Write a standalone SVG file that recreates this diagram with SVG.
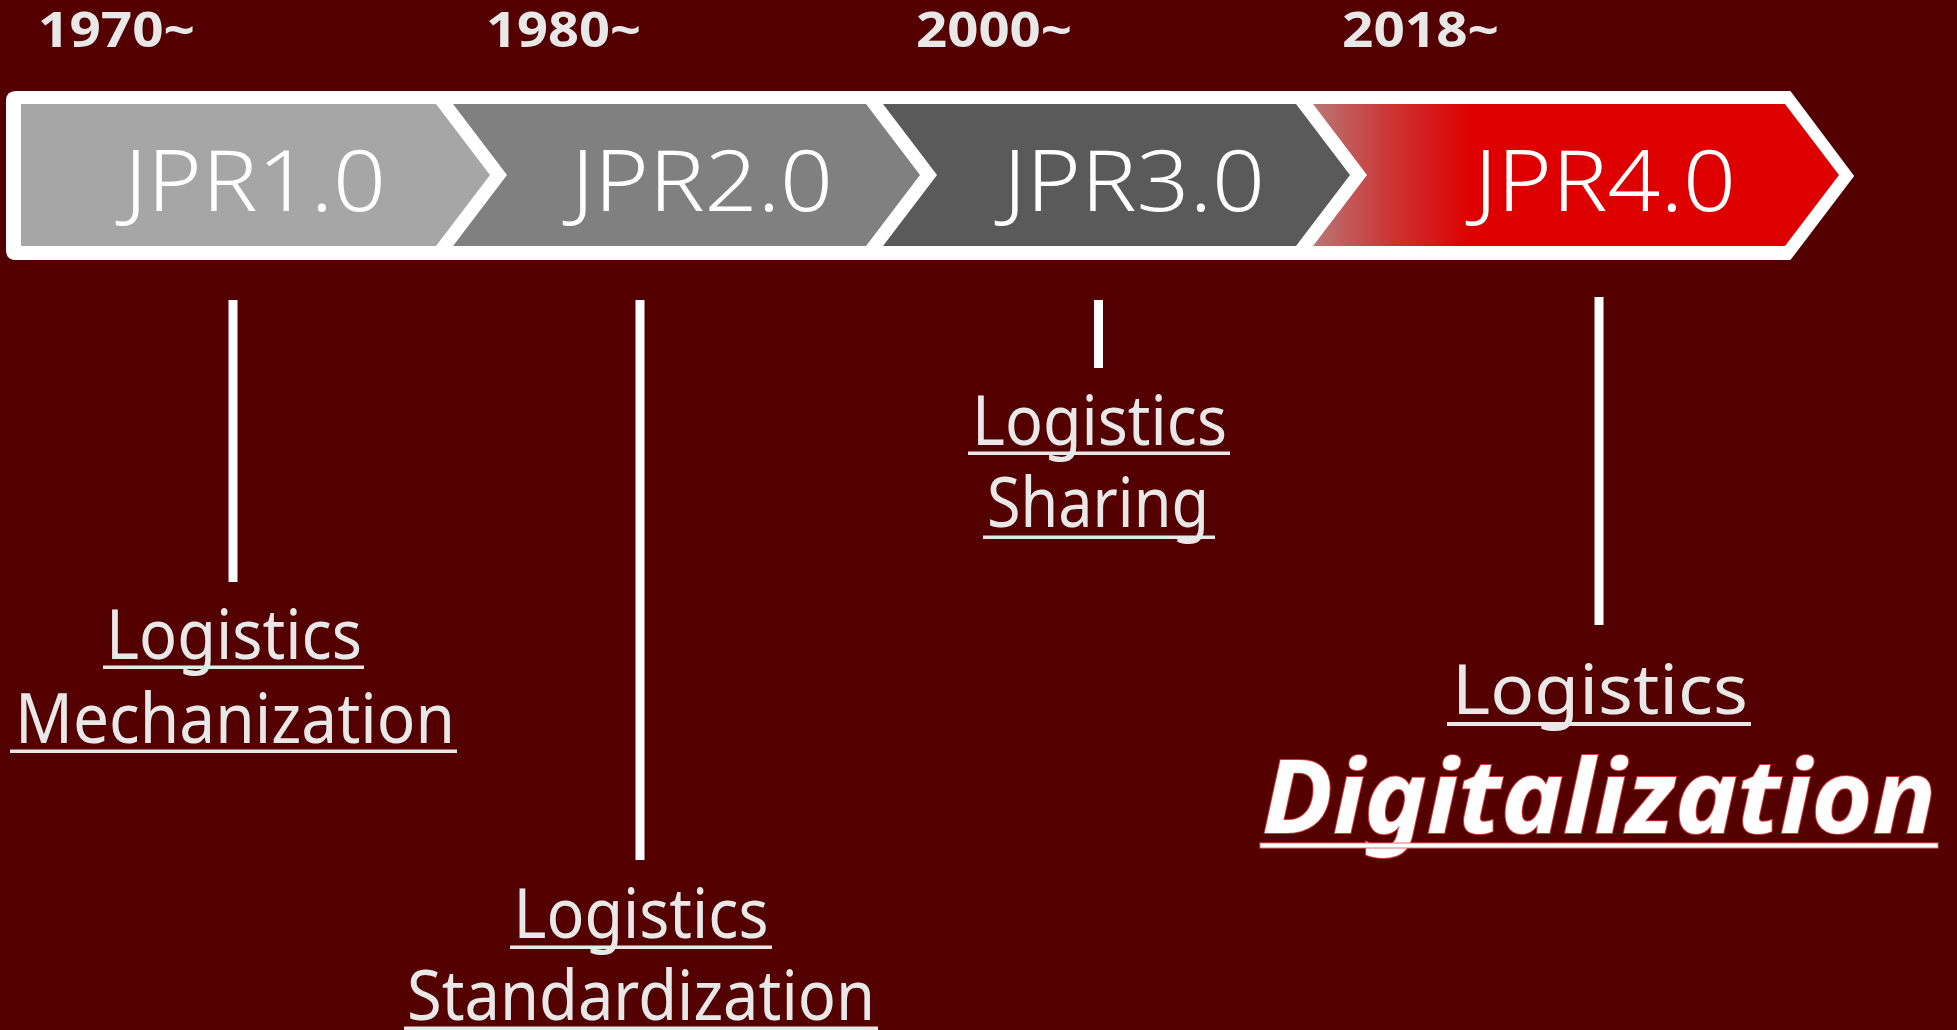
<svg xmlns="http://www.w3.org/2000/svg" width="1957" height="1030" viewBox="0 0 1957 1030">
<style>
.yr{font-family:"Noto Sans","Open Sans","DejaVu Sans",sans-serif;font-weight:700;font-size:49px;fill:#E8E8E8}
.jpr{font-family:"Noto Sans","Open Sans","DejaVu Sans",sans-serif;font-weight:300;font-size:84px;fill:#FFFFFF;text-anchor:middle}
.lbl{font-family:"Noto Sans","Open Sans","DejaVu Sans",sans-serif;font-weight:400;font-size:69px;fill:#E8E8E8;text-anchor:middle}
.ul{fill:#E8E8E8}
.conn{stroke:#FFFFFF;stroke-width:9;fill:none}
</style>
<defs>
<linearGradient id="g4" gradientUnits="userSpaceOnUse" x1="1313" y1="0" x2="1470" y2="0">
<stop offset="0" stop-color="#BA7676"/>
<stop offset="0.5" stop-color="#CC3434"/>
<stop offset="1" stop-color="#DE0000"/>
</linearGradient>
</defs>
<rect width="1957" height="1030" fill="#550000"/>
<g id="band">
<path d="M16,92 H1790 L1853,176 L1790,259 H16 Q7,259 7,250 V101 Q7,92 16,92 Z" fill="#FFFFFF" stroke="#FFFFFF" stroke-width="2" stroke-linejoin="round"/>
</g>
<g id="jpr1">
<path d="M21,104 H436 L490,175 L436,246 H21 Z" fill="#A6A6A6"/>
<text class="jpr" x="255" y="211" textLength="262" lengthAdjust="spacingAndGlyphs">JPR1.0</text>
<text class="yr" x="38" y="47" textLength="157" lengthAdjust="spacingAndGlyphs">1970~</text>
</g>
<g id="jpr2">
<path d="M453,104 H866 L920,175 L866,246 H453 L507,175 Z" fill="#808080"/>
<text class="jpr" x="702" y="211" textLength="262" lengthAdjust="spacingAndGlyphs">JPR2.0</text>
<text class="yr" x="486" y="47" textLength="155" lengthAdjust="spacingAndGlyphs">1980~</text>
</g>
<g id="jpr3">
<path d="M883,104 H1296 L1350,175 L1296,246 H883 L937,175 Z" fill="#5A5A5A"/>
<text class="jpr" x="1134" y="211" textLength="262" lengthAdjust="spacingAndGlyphs">JPR3.0</text>
<text class="yr" x="916" y="47" textLength="156" lengthAdjust="spacingAndGlyphs">2000~</text>
</g>
<g id="jpr4">
<path d="M1313,104 H1785 L1839,175 L1785,246 H1313 L1367,175 Z" fill="url(#g4)"/>
<text class="jpr" x="1605" y="211" textLength="262" lengthAdjust="spacingAndGlyphs">JPR4.0</text>
<text class="yr" x="1342" y="47" textLength="157" lengthAdjust="spacingAndGlyphs">2018~</text>
</g>
<g id="connectors">
<line class="conn" x1="233" y1="300" x2="233" y2="582"/>
<line class="conn" x1="640" y1="300" x2="640" y2="860"/>
<line class="conn" x1="1098.5" y1="300" x2="1098.5" y2="368"/>
<line class="conn" x1="1599" y1="297" x2="1599" y2="625"/>
</g>
<g id="mechanization">
<text class="lbl" x="234" y="659" textLength="256" lengthAdjust="spacingAndGlyphs">Logistics</text>
<rect class="ul" x="103" y="665.5" width="261" height="3.5"/>
<text class="lbl" x="235" y="743" textLength="440" lengthAdjust="spacingAndGlyphs">Mechanization</text>
<rect class="ul" x="10" y="749.5" width="447" height="3.5"/>
</g>
<g id="standardization">
<text class="lbl" x="641" y="938" textLength="255" lengthAdjust="spacingAndGlyphs">Logistics</text>
<rect class="ul" x="510" y="945.5" width="262" height="3.5"/>
<text class="lbl" x="641" y="1020" textLength="468" lengthAdjust="spacingAndGlyphs">Standardization</text>
<rect class="ul" x="404" y="1026.5" width="474" height="3.5"/>
</g>
<g id="sharing">
<text class="lbl" x="1099.5" y="445" textLength="255" lengthAdjust="spacingAndGlyphs">Logistics</text>
<rect class="ul" x="968" y="451.5" width="262" height="3.5"/>
<text class="lbl" x="1098" y="527" textLength="222" lengthAdjust="spacingAndGlyphs">Sharing</text>
<rect class="ul" x="983" y="535.5" width="232" height="3.5"/>
</g>
<g id="digitalization">
<text class="lbl" x="1600" y="714" font-size="80" textLength="296" lengthAdjust="spacingAndGlyphs">Logistics</text>
<rect class="ul" x="1447" y="722" width="304" height="4"/>
<text x="1599" y="833" font-family="'Noto Sans','Open Sans','DejaVu Sans',sans-serif" font-weight="700" font-style="italic" font-size="102" fill="#FFFFFF" stroke="#D03A3A" stroke-width="2" paint-order="stroke" text-anchor="middle" textLength="674" lengthAdjust="spacingAndGlyphs">Digitalization</text>
<rect x="1260" y="843" width="678" height="5" fill="#FFFFFF" stroke="#E07070" stroke-width="1"/>
</g>
</svg>
